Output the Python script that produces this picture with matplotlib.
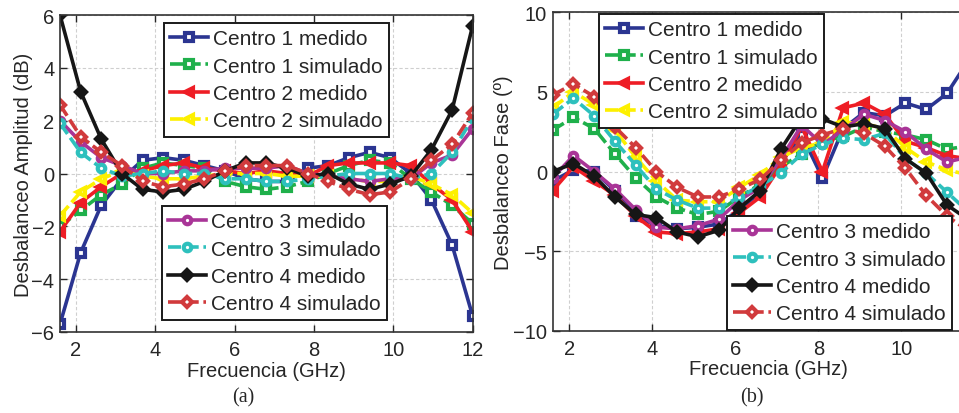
import matplotlib
matplotlib.use("Agg")
import matplotlib.pyplot as plt

plt.rcParams['font.family'] = ['Liberation Sans', 'DejaVu Sans']

# Frequency samples (GHz)
freq_a = [1.60, 2.12, 2.64, 3.16, 3.68, 4.20, 4.72, 5.24, 5.76, 6.28, 6.80,
          7.32, 7.84, 8.36, 8.88, 9.40, 9.92, 10.44, 10.96, 11.48, 12.00]
freq_b = [1.6, 2.1, 2.6, 3.1, 3.6, 4.1, 4.6, 5.1, 5.6, 6.1, 6.6,
          7.1, 7.6, 8.1, 8.6, 9.1, 9.6, 10.1, 10.6, 11.1, 11.6]

series_names = ["Centro 1 medido", "Centro 1 simulado", "Centro 2 medido",
                "Centro 2 simulado", "Centro 3 medido", "Centro 3 simulado",
                "Centro 4 medido", "Centro 4 simulado"]

# Amplitude imbalance (dB)
amp_c1_med = [-5.7, -3.0, -1.2, -0.2, 0.5, 0.6, 0.5, 0.3, 0.1, -0.2, -0.3,
              -0.3, 0.2, 0.3, 0.6, 0.8, 0.6, 0.0, -1.0, -2.7, -5.4]
amp_c1_sim = [-2.0, -1.4, -0.8, -0.4, 0.2, 0.4, 0.3, 0.2, -0.3, -0.5, -0.6,
              -0.5, -0.3, 0.0, 0.3, 0.5, 0.4, -0.2, -0.7, -1.2, -1.9]
amp_c2_med = [-2.2, -1.1, -0.5, 0.0, 0.1, 0.3, 0.4, 0.2, 0.1, 0.0, 0.1,
              0.0, -0.1, 0.3, 0.4, 0.4, 0.4, 0.3, -0.4, -1.0, -2.2]
amp_c2_sim = [-1.6, -0.7, -0.2, 0.1, -0.1, -0.2, -0.2, -0.1, 0.0, 0.0, 0.0,
              -0.1, -0.1, -0.1, -0.2, -0.3, -0.3, -0.1, -0.4, -0.8, -1.5]
amp_c3_med = [2.0, 1.2, 0.6, 0.3, 0.0, 0.0, 0.1, 0.1, 0.2, 0.2, 0.2,
              0.3, 0.0, -0.1, -0.2, -0.3, -0.2, -0.2, 0.4, 0.7, 1.7]
amp_c3_sim = [1.9, 0.8, 0.2, -0.1, 0.0, 0.1, 0.0, 0.0, -0.2, -0.2, -0.3,
              -0.3, -0.2, -0.1, 0.0, 0.0, 0.0, -0.2, 0.0, 0.8, 2.1]
amp_c4_med = [6.0, 3.1, 1.3, 0.0, -0.6, -0.7, -0.6, -0.3, 0.1, 0.4, 0.4,
              0.2, -0.1, 0.0, -0.4, -0.6, -0.4, -0.1, 0.9, 2.4, 5.6]
amp_c4_sim = [2.6, 1.4, 0.8, 0.3, -0.3, -0.5, -0.4, -0.2, 0.1, 0.3, 0.3,
              0.3, 0.0, -0.3, -0.6, -0.8, -0.7, -0.2, 0.5, 1.1, 2.3]

# Phase imbalance (degrees)
ph_c1_med = [-0.6, 0.1, 0.0, -1.2, -2.8, -3.4, -3.6, -3.5, -3.3, -2.4, -1.3,
             0.6, 2.3, -0.4, 2.7, 3.7, 3.5, 4.3, 3.9, 4.9, 6.9]
ph_c1_sim = [2.6, 3.4, 2.7, 1.1, -0.4, -1.6, -2.3, -2.7, -2.5, -1.6, -0.8,
             0.3, 1.1, 1.9, 2.2, 2.8, 2.5, 2.3, 2.0, 1.4, 1.6]
ph_c2_med = [-1.2, 0.3, -0.6, -1.5, -2.8, -3.8, -3.9, -3.8, -3.6, -2.6, -1.6,
             0.4, 2.8, 0.0, 4.0, 4.3, 3.6, 1.9, 1.5, 1.0, 0.8]
ph_c2_sim = [4.0, 5.0, 4.2, 2.6, 0.9, -0.6, -1.8, -1.9, -1.9, -1.0, -0.2,
             0.9, 1.5, 1.8, 3.1, 3.0, 2.7, 1.5, 0.6, 0.1, -0.2]
ph_c3_med = [-0.4, 1.0, 0.0, -1.1, -2.4, -3.5, -3.6, -3.4, -3.0, -1.8, -1.0,
             0.8, 2.9, 1.7, 2.6, 3.6, 3.2, 2.5, 1.4, 0.6, 0.9]
ph_c3_sim = [3.6, 4.6, 3.5, 1.9, 0.4, -1.1, -1.8, -2.3, -2.3, -1.6, -0.9,
             -0.1, 1.1, 1.7, 2.1, 2.0, 2.4, 0.8, -0.1, -1.3, -2.5]
ph_c4_med = [0.0, 0.5, -0.3, -1.6, -2.7, -2.9, -3.8, -4.1, -3.7, -2.3, -1.2,
             1.4, 3.4, 3.3, 2.8, 3.0, 2.7, 0.8, -0.1, -2.1, -3.0]
ph_c4_sim = [4.8, 5.5, 4.7, 2.8, 1.5, 0.0, -1.0, -1.6, -1.6, -1.1, -0.5,
             0.7, 1.8, 2.3, 2.7, 2.4, 1.6, 0.2, -1.5, -2.8, -3.7]

amp_series = [amp_c1_med, amp_c1_sim, amp_c2_med, amp_c2_sim,
              amp_c3_med, amp_c3_sim, amp_c4_med, amp_c4_sim]
ph_series = [ph_c1_med, ph_c1_sim, ph_c2_med, ph_c2_sim,
             ph_c3_med, ph_c3_sim, ph_c4_med, ph_c4_sim]

# (color, marker, dashed, filled)
styles = [
    ("#2b3591", "s", False, False),
    ("#1fb04b", "s", True, False),
    ("#ee1d25", "<", False, True),
    ("#fdf000", "<", True, False),
    ("#a93597", "o", False, False),
    ("#2ec0bd", "o", True, False),
    ("#161616", "D", False, True),
    ("#d13a3c", "D", True, False),
]

LW = 2.6
TXT = "#262626"
FS = 14.5
LEG_FS = 15


def draw(ax, x, data):
    lines = []
    for name, y, (col, mk, dashed, filled) in zip(series_names, data, styles):
        ms = 5.4 if mk != "D" else 5.0
        ln, = ax.plot(x, y, color=col, lw=LW, marker=mk, markersize=ms,
                      markeredgewidth=3.0,
                      markerfacecolor=col if filled else "white",
                      label=name, solid_joinstyle="miter")
        if dashed:
            ln.set_dashes((3.6, 1.3))
        lines.append(ln)
    return lines


def style_axes(ax):
    ax.grid(True, color="#cfcfcf", ls=(0, (3, 2)), lw=0.8)
    ax.set_axisbelow(True)
    ax.tick_params(direction="in", length=5, width=1, top=True, right=True,
                   labelsize=FS, colors=TXT, pad=4)
    ax.tick_params(axis="x", pad=6)
    for sp in ax.spines.values():
        sp.set_color("#333333")
        sp.set_linewidth(1.2)
    ax.set_xlabel("Frecuencia (GHz)", fontsize=FS, color=TXT, labelpad=1)


def add_legends(fig, ax, lines, p1, p2):
    kw = dict(loc="upper left", bbox_transform=fig.transFigure,
              fontsize=LEG_FS, frameon=True, fancybox=False, framealpha=1,
              edgecolor="#1a1a1a", borderaxespad=0, handlelength=1.8,
              handletextpad=0.25, labelspacing=0.4, borderpad=0.3,
              numpoints=1)
    l1 = ax.legend(handles=lines[:4],
                   bbox_to_anchor=(p1[0] / 959, 1 - p1[1] / 414), **kw)
    for t in l1.get_texts():
        t.set_color(TXT)
    l1.get_frame().set_linewidth(1.4)
    ax.add_artist(l1)
    l2 = ax.legend(handles=lines[4:],
                   bbox_to_anchor=(p2[0] / 959, 1 - p2[1] / 414), **kw)
    for t in l2.get_texts():
        t.set_color(TXT)
    l2.get_frame().set_linewidth(1.4)


fig = plt.figure(figsize=(9.59, 4.14), dpi=100)

ax1 = fig.add_axes([60 / 959, 1 - 333 / 414, 412.7 / 959, 317 / 414])
ln1 = draw(ax1, freq_a, amp_series)
ax1.set_xlim(1.6, 12)
ax1.set_ylim(-6, 6)
ax1.set_xticks([2, 4, 6, 8, 10, 12])
ax1.set_yticks([-6, -4, -2, 0, 2, 4, 6])
style_axes(ax1)
ax1.set_ylabel("Desbalanceo Amplitud (dB)", fontsize=FS, color=TXT, labelpad=-1)
add_legends(fig, ax1, ln1, (164, 24), (162, 207))

ax2 = fig.add_axes([552.7 / 959, 1 - 331.7 / 414, 431.6 / 959, 318.4 / 414])
ln2 = draw(ax2, freq_b, ph_series)
ax2.set_xlim(1.6, 12)
ax2.set_ylim(-10, 10)
ax2.set_xticks([2, 4, 6, 8, 10])
ax2.set_yticks([-10, -5, 0, 5, 10])
style_axes(ax2)
ax2.set_ylabel("Desbalanceo Fase (º)", fontsize=FS, color=TXT, labelpad=0)
add_legends(fig, ax2, ln2, (599, 15), (727, 217))

fig.text(243 / 959, 1 - 398 / 414, "(a)", ha="center", va="center",
         fontsize=FS, family=["Liberation Serif", "DejaVu Serif"], color=TXT)
fig.text(752 / 959, 1 - 398 / 414, "(b)", ha="center", va="center",
         fontsize=FS, family=["Liberation Serif", "DejaVu Serif"], color=TXT)

fig.savefig("out.png", dpi=100)
